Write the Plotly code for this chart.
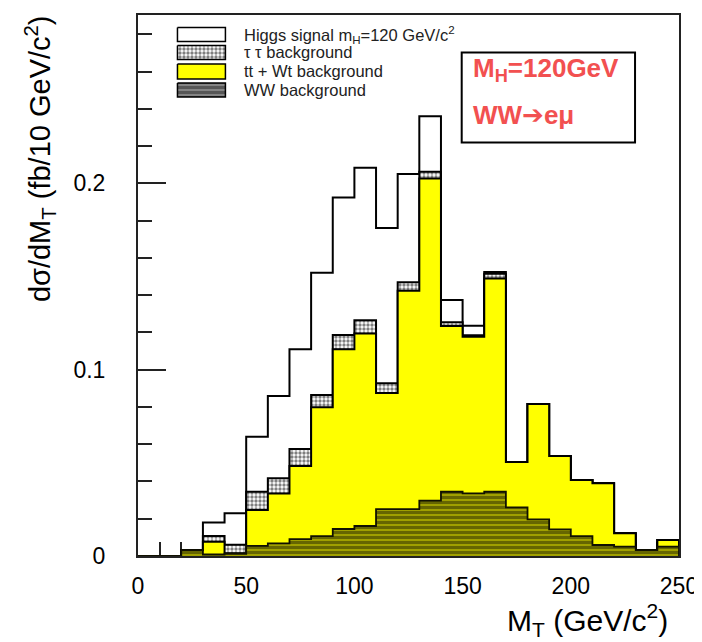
import plotly.graph_objects as go

# ---------------- data ----------------
bin_edges = list(range(0, 260, 10))          # M_T bin edges, GeV/c^2
# cumulative stack tops per 10 GeV bin (fb / 10 GeV/c^2), bins 0-10 ... 240-250
higgs_stack = [0, 0, 0.0032, 0.018, 0.023, 0.064, 0.0859, 0.111, 0.152, 0.1925,
               0.2084, 0.176, 0.205, 0.236, 0.1374, 0.1236, 0.1525, 0.0505, 0.0816,
               0.0537, 0.0408, 0.039, 0.0122, 0.0032, 0.0086]
tautau_stack = [0, 0, 0.0032, 0.0107, 0.006, 0.0345, 0.0417, 0.0574, 0.0864, 0.1186,
                0.1265, 0.0927, 0.147, 0.2063, 0.1255, 0.1185, 0.1515, 0.0505, 0.0816,
                0.0537, 0.0408, 0.039, 0.0122, 0.0032, 0.0086]
ttwt_stack = [0, 0, 0.0032, 0.0077, 0.0015, 0.0247, 0.0336, 0.0483, 0.0798, 0.111,
              0.1195, 0.0875, 0.1424, 0.2027, 0.1235, 0.1177, 0.149, 0.0505, 0.0816,
              0.0537, 0.0408, 0.039, 0.0122, 0.0032, 0.0086]
ww_bkg = [0, 0, 0.0032, 0.0008, 0.0012, 0.0054, 0.0068, 0.0091, 0.0107, 0.0145,
          0.0161, 0.0252, 0.0252, 0.0297, 0.0345, 0.0336, 0.0345, 0.0261, 0.0197,
          0.0143, 0.0107, 0.0059, 0.005, 0.0032, 0.005]

legend_labels = ["Higgs signal m<sub>H</sub>=120 GeV/c<sup>2</sup>",
                 "τ τ background", "tt + Wt background", "WW background"]
x_tick_vals = [0, 50, 100, 150, 200, 250]
y_tick_vals = [0, 0.1, 0.2]
y_tick_text = ["0", "0.1", "0.2"]

X_MAX = 250
Y_MAX = 0.2904

# ---------------- layout geometry ----------------
OFF = 8                                   # page body margin of the html page
W, H = 702 - OFF, 642 - OFF               # figure size so the page fits the window
L, R, T, B = 137.5, 679.0, 15.0, 556.0    # plot-area edges in screen px


def px2data(px, py):
    return ((px - L) / (R - L) * X_MAX, (B - py) / (B - T) * Y_MAX)


def px2paper(px, py):
    return ((px - L) / (R - L), (B - py) / (B - T))


def step_xy(vals):
    xs = [bin_edges[0]] + bin_edges[:-1] + [bin_edges[-1], bin_edges[-1]]
    ys = [0] + list(vals) + [vals[-1], 0]
    return xs, ys


LINE = dict(color="black", width=2, shape="hv")
dot_pattern = dict(shape=".", fgcolor="black", bgcolor="white", size=4, solidity=0.55)
ww_pattern = dict(shape="-", fgcolor="#2c2c00", bgcolor="#a0a000", size=5, solidity=0.6)
ww_leg_pattern = dict(shape="-", fgcolor="#222222", bgcolor="#8a8a8a", size=5, solidity=0.65)

fig = go.Figure()

x, y = step_xy(higgs_stack)
fig.add_trace(go.Scatter(x=x, y=y, mode="lines", line=LINE, fill="tozeroy",
                         fillcolor="white", showlegend=False, hoverinfo="skip"))
x, y = step_xy(tautau_stack)
fig.add_trace(go.Scatter(x=x, y=y, mode="lines", line=LINE, fill="tozeroy",
                         fillpattern=dot_pattern, showlegend=False, hoverinfo="skip"))
x, y = step_xy(ttwt_stack)
fig.add_trace(go.Scatter(x=x, y=y, mode="lines", line=LINE, fill="tozeroy",
                         fillcolor="#ffff00", showlegend=False, hoverinfo="skip"))
x, y = step_xy(ww_bkg)
fig.add_trace(go.Scatter(x=x, y=y, mode="lines", line=dict(color="#111100", width=1.8, shape="hv"),
                         fill="tozeroy", fillpattern=ww_pattern, showlegend=False,
                         hoverinfo="skip"))

# ---------------- custom legend ----------------
box_x0, box_x1 = 177, 225
rows = [(27.5, 41.5), (45.5, 59.5), (64, 79), (83, 97)]
fills = [dict(fillcolor="white"), dict(fillpattern=dot_pattern),
         dict(fillcolor="#ffff00"), dict(fillpattern=ww_leg_pattern)]
annotations = []
for (y0, y1), f, lab in zip(rows, fills, legend_labels):
    a = px2data(box_x0, y0)
    b = px2data(box_x1, y1)
    fig.add_trace(go.Scatter(x=[a[0], b[0], b[0], a[0], a[0]],
                             y=[a[1], a[1], b[1], b[1], a[1]],
                             mode="lines", line=dict(color="black", width=1.5),
                             fill="toself", showlegend=False, hoverinfo="skip", **f))
    tx, ty = px2paper(242, (y0 + y1) / 2)
    annotations.append(dict(x=tx, y=ty, xref="paper", yref="paper", text=lab,
                            showarrow=False, xanchor="left", yanchor="middle",
                            font=dict(family="Liberation Sans", size=16.5, color="#222")))

# ---------------- red info box ----------------
bx0, by0 = px2paper(461.5, 142.5)
bx1, by1 = px2paper(635, 52.5)
shapes = [dict(type="rect", xref="paper", yref="paper", x0=bx0, y0=by0, x1=bx1, y1=by1,
               line=dict(color="black", width=2), fillcolor="white", layer="above")]
for txt, py in [("M<sub>H</sub>=120GeV", 70),
                ("WW<span style='font-family:DejaVu Sans'>➔</span>eμ", 115)]:
    tx, ty = px2paper(471, py)
    annotations.append(dict(x=tx, y=ty, xref="paper", yref="paper", text="<b>%s</b>" % txt,
                            showarrow=False, xanchor="left", yanchor="middle",
                            font=dict(family="Liberation Sans", size=26, color="#f25050")))

# ---------------- axis titles ----------------
annotations.append(dict(x=px2paper(670, 0)[0], y=px2paper(0, 620)[1], xref="paper", yref="paper",
                        text="M<sub>T</sub> (GeV/c<sup>2</sup>)", showarrow=False,
                        xanchor="right", yanchor="middle",
                        font=dict(family="Liberation Sans", size=30, color="black")))
annotations.append(dict(x=px2paper(40, 0)[0], y=px2paper(0, 13)[1], xref="paper", yref="paper",
                        text="dσ/dM<sub>T</sub> (fb/10 GeV/c<sup>2</sup>)", showarrow=False,
                        textangle=-90, xanchor="center", yanchor="top",
                        font=dict(family="Liberation Sans", size=29, color="black")))

axis_common = dict(showline=True, linecolor="#222", linewidth=2, mirror=True,
                   showgrid=False, zeroline=False, ticks="inside", ticklen=28,
                   tickwidth=1.5, tickcolor="#222", layer="below traces",
                   automargin=False,
                   tickfont=dict(family="Liberation Sans", size=23, color="black"))

fig.update_layout(
    width=W, height=H,
    margin=dict(l=L - OFF, r=W - (R - OFF), t=T - OFF, b=H - (B - OFF), pad=0,
                autoexpand=False),
    paper_bgcolor="white", plot_bgcolor="white",
    showlegend=False,
    xaxis=dict(range=[0, X_MAX], tickvals=x_tick_vals, ticklabelstandoff=8,
               minor=dict(ticks="inside", ticklen=14, dtick=10, tickwidth=1.5,
                          tickcolor="#222"),
               **axis_common),
    yaxis=dict(range=[0, Y_MAX], tickvals=y_tick_vals, ticktext=y_tick_text,
               ticklabelstandoff=26,
               minor=dict(ticks="inside", ticklen=14, dtick=0.02, tickwidth=1.5,
                          tickcolor="#222"),
               **axis_common),
    annotations=annotations,
    shapes=shapes,
)

fig.write_html("out.html")
